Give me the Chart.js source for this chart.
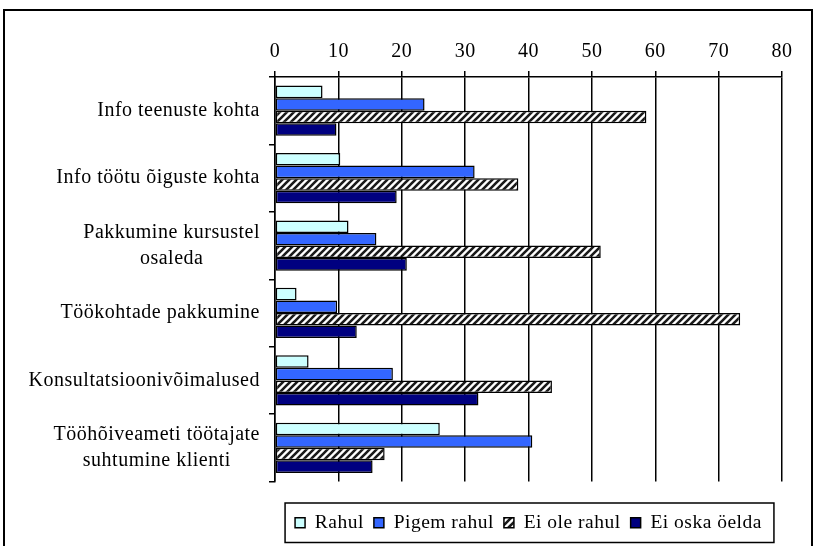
<!DOCTYPE html>
<html>
<head>
<meta charset="utf-8">
<script src="https://cdn.jsdelivr.net/npm/chart.js@4"></script>
<style>
  body { margin: 0; background: #fff; }
</style>
</head>
<body>
<canvas id="chart" width="815" height="546"></canvas>
<script>
// data
const categories = [
  ["Info teenuste kohta"],
  ["Info töötu õiguste kohta"],
  ["Pakkumine kursustel", "osaleda"],
  ["Töökohtade pakkumine"],
  ["Konsultatsioonivõimalused"],
  ["Tööhõiveameti töötajate", "suhtumine klienti"],
];
const seriesNames = ["Rahul", "Pigem rahul", "Ei ole rahul", "Ei oska öelda"];
const rahul = [7.5, 10.3, 11.6, 3.4, 5.3, 26.0];
const pigemRahul = [23.6, 31.5, 16.0, 9.8, 18.6, 40.6];
const eiOleRahul = [58.6, 38.4, 51.4, 73.4, 43.7, 17.3];
const eiOskaOelda = [9.7, 19.2, 20.8, 12.9, 32.1, 15.4];
const xTicks = [0, 10, 20, 30, 40, 50, 60, 70, 80];

const serif = "'Liberation Serif', 'Times New Roman', serif";

function makeHatch() {
  const s = 7;
  const c = document.createElement("canvas");
  c.width = s;
  c.height = s;
  const g = c.getContext("2d");
  g.fillStyle = "#fff";
  g.fillRect(0, 0, s, s);
  g.strokeStyle = "#1a1a1a";
  g.lineWidth = 2.6;
  g.beginPath();
  g.moveTo(-1, s + 1);
  g.lineTo(s + 1, -1);
  g.moveTo(-2, 2);
  g.lineTo(2, -2);
  g.moveTo(s - 2, s + 2);
  g.lineTo(s + 2, s - 2);
  g.stroke();
  return g.createPattern(c, "repeat");
}

// slightly wider text, like the original
const spacingPlugin = {
  id: "spacing",
  beforeLayout(chart) {
    chart.ctx.letterSpacing = "0.5px";
  },
  beforeDraw(chart) {
    chart.ctx.letterSpacing = "0.5px";
  },
};

// category labels: block right aligned, lines centred
const catLabels = {
  id: "catLabels",
  afterDraw(chart) {
    const ctx = chart.ctx;
    const y = chart.scales.y;
    ctx.save();
    ctx.letterSpacing = "0.5px";
    ctx.font = "20px " + serif;
    ctx.fillStyle = "#000";
    ctx.textAlign = "center";
    ctx.textBaseline = "middle";
    categories.forEach((lines, i) => {
      const yc = y.getPixelForValue(i);
      const w = Math.max(...lines.map((l) => ctx.measureText(l).width));
      const cx = 260 - w / 2;
      const lh = 26;
      lines.forEach((l, j) => {
        ctx.fillText(l, cx, yc + (j - (lines.length - 1) / 2) * lh);
      });
    });
    ctx.restore();
  },
};

// outer frame and legend box
const frames = {
  id: "frames",
  afterDraw(chart) {
    const ctx = chart.ctx;
    ctx.save();
    ctx.strokeStyle = "#000";
    ctx.lineWidth = 2;
    ctx.strokeRect(4, 10, 808, 600);
    const boxes = chart.legend.legendHitBoxes;
    if (boxes && boxes.length) {
      const first = boxes[0];
      const last = boxes[boxes.length - 1];
      ctx.lineWidth = 1.5;
      ctx.strokeRect(
        first.left - 10,
        first.top - 10,
        last.left + last.width - first.left + 22,
        first.height + 20
      );
    }
    ctx.restore();
  },
};

const hatch = makeHatch();
const fills = ["#CCFFFF", "#3366FF", hatch, "#000080"];
const values = [rahul, pigemRahul, eiOleRahul, eiOskaOelda];

const ctx = document.getElementById("chart");

const chart = new Chart(ctx, {
  type: "bar",
  data: {
    labels: categories.map((c) => c.join(" ")),
    datasets: seriesNames.map((name, i) => ({
      label: name,
      data: values[i],
      backgroundColor: fills[i],
      borderColor: "#000",
      borderWidth: 1.5,
      borderSkipped: false,
      categoryPercentage: 0.745,
      barPercentage: 1.0,
    })),
  },
  options: {
    indexAxis: "y",
    responsive: false,
    animation: false,
    layout: {
      padding: { left: 0, right: 33, top: 0, bottom: 3.5 },
    },
    scales: {
      x: {
        position: "top",
        min: 0,
        max: 80,
        afterBuildTicks: (scale) => {
          scale.ticks = xTicks.map((v) => ({ value: v }));
        },
        afterFit: (scale) => {
          scale.height = 77;
        },
        grid: {
          color: "#000",
          lineWidth: 1.5,
          tickLength: 6,
          drawOnChartArea: true,
        },
        border: { display: true, color: "#000", width: 1.5 },
        ticks: {
          color: "#000",
          padding: 7,
          font: { family: serif, size: 20 },
        },
      },
      y: {
        offset: true,
        afterFit: (scale) => {
          scale.width = 275;
        },
        grid: {
          offset: true,
          drawOnChartArea: false,
          color: "#000",
          lineWidth: 1.5,
          tickLength: 6,
        },
        border: { display: true, color: "#000", width: 1.5 },
        ticks: { display: false },
      },
    },
    plugins: {
      tooltip: { enabled: false },
      legend: {
        position: "bottom",
        fullSize: false,
        title: {
          display: true,
          text: "",
          font: { size: 1, lineHeight: 1 },
          padding: { top: 10, bottom: 10.5 },
        },
        labels: {
          color: "#000",
          boxWidth: 10,
          boxHeight: 10,
          padding: 10,
          font: { family: serif, size: 19.5 },
        },
      },
    },
  },
  plugins: [spacingPlugin, catLabels, frames],
});
</script>
</body>
</html>
